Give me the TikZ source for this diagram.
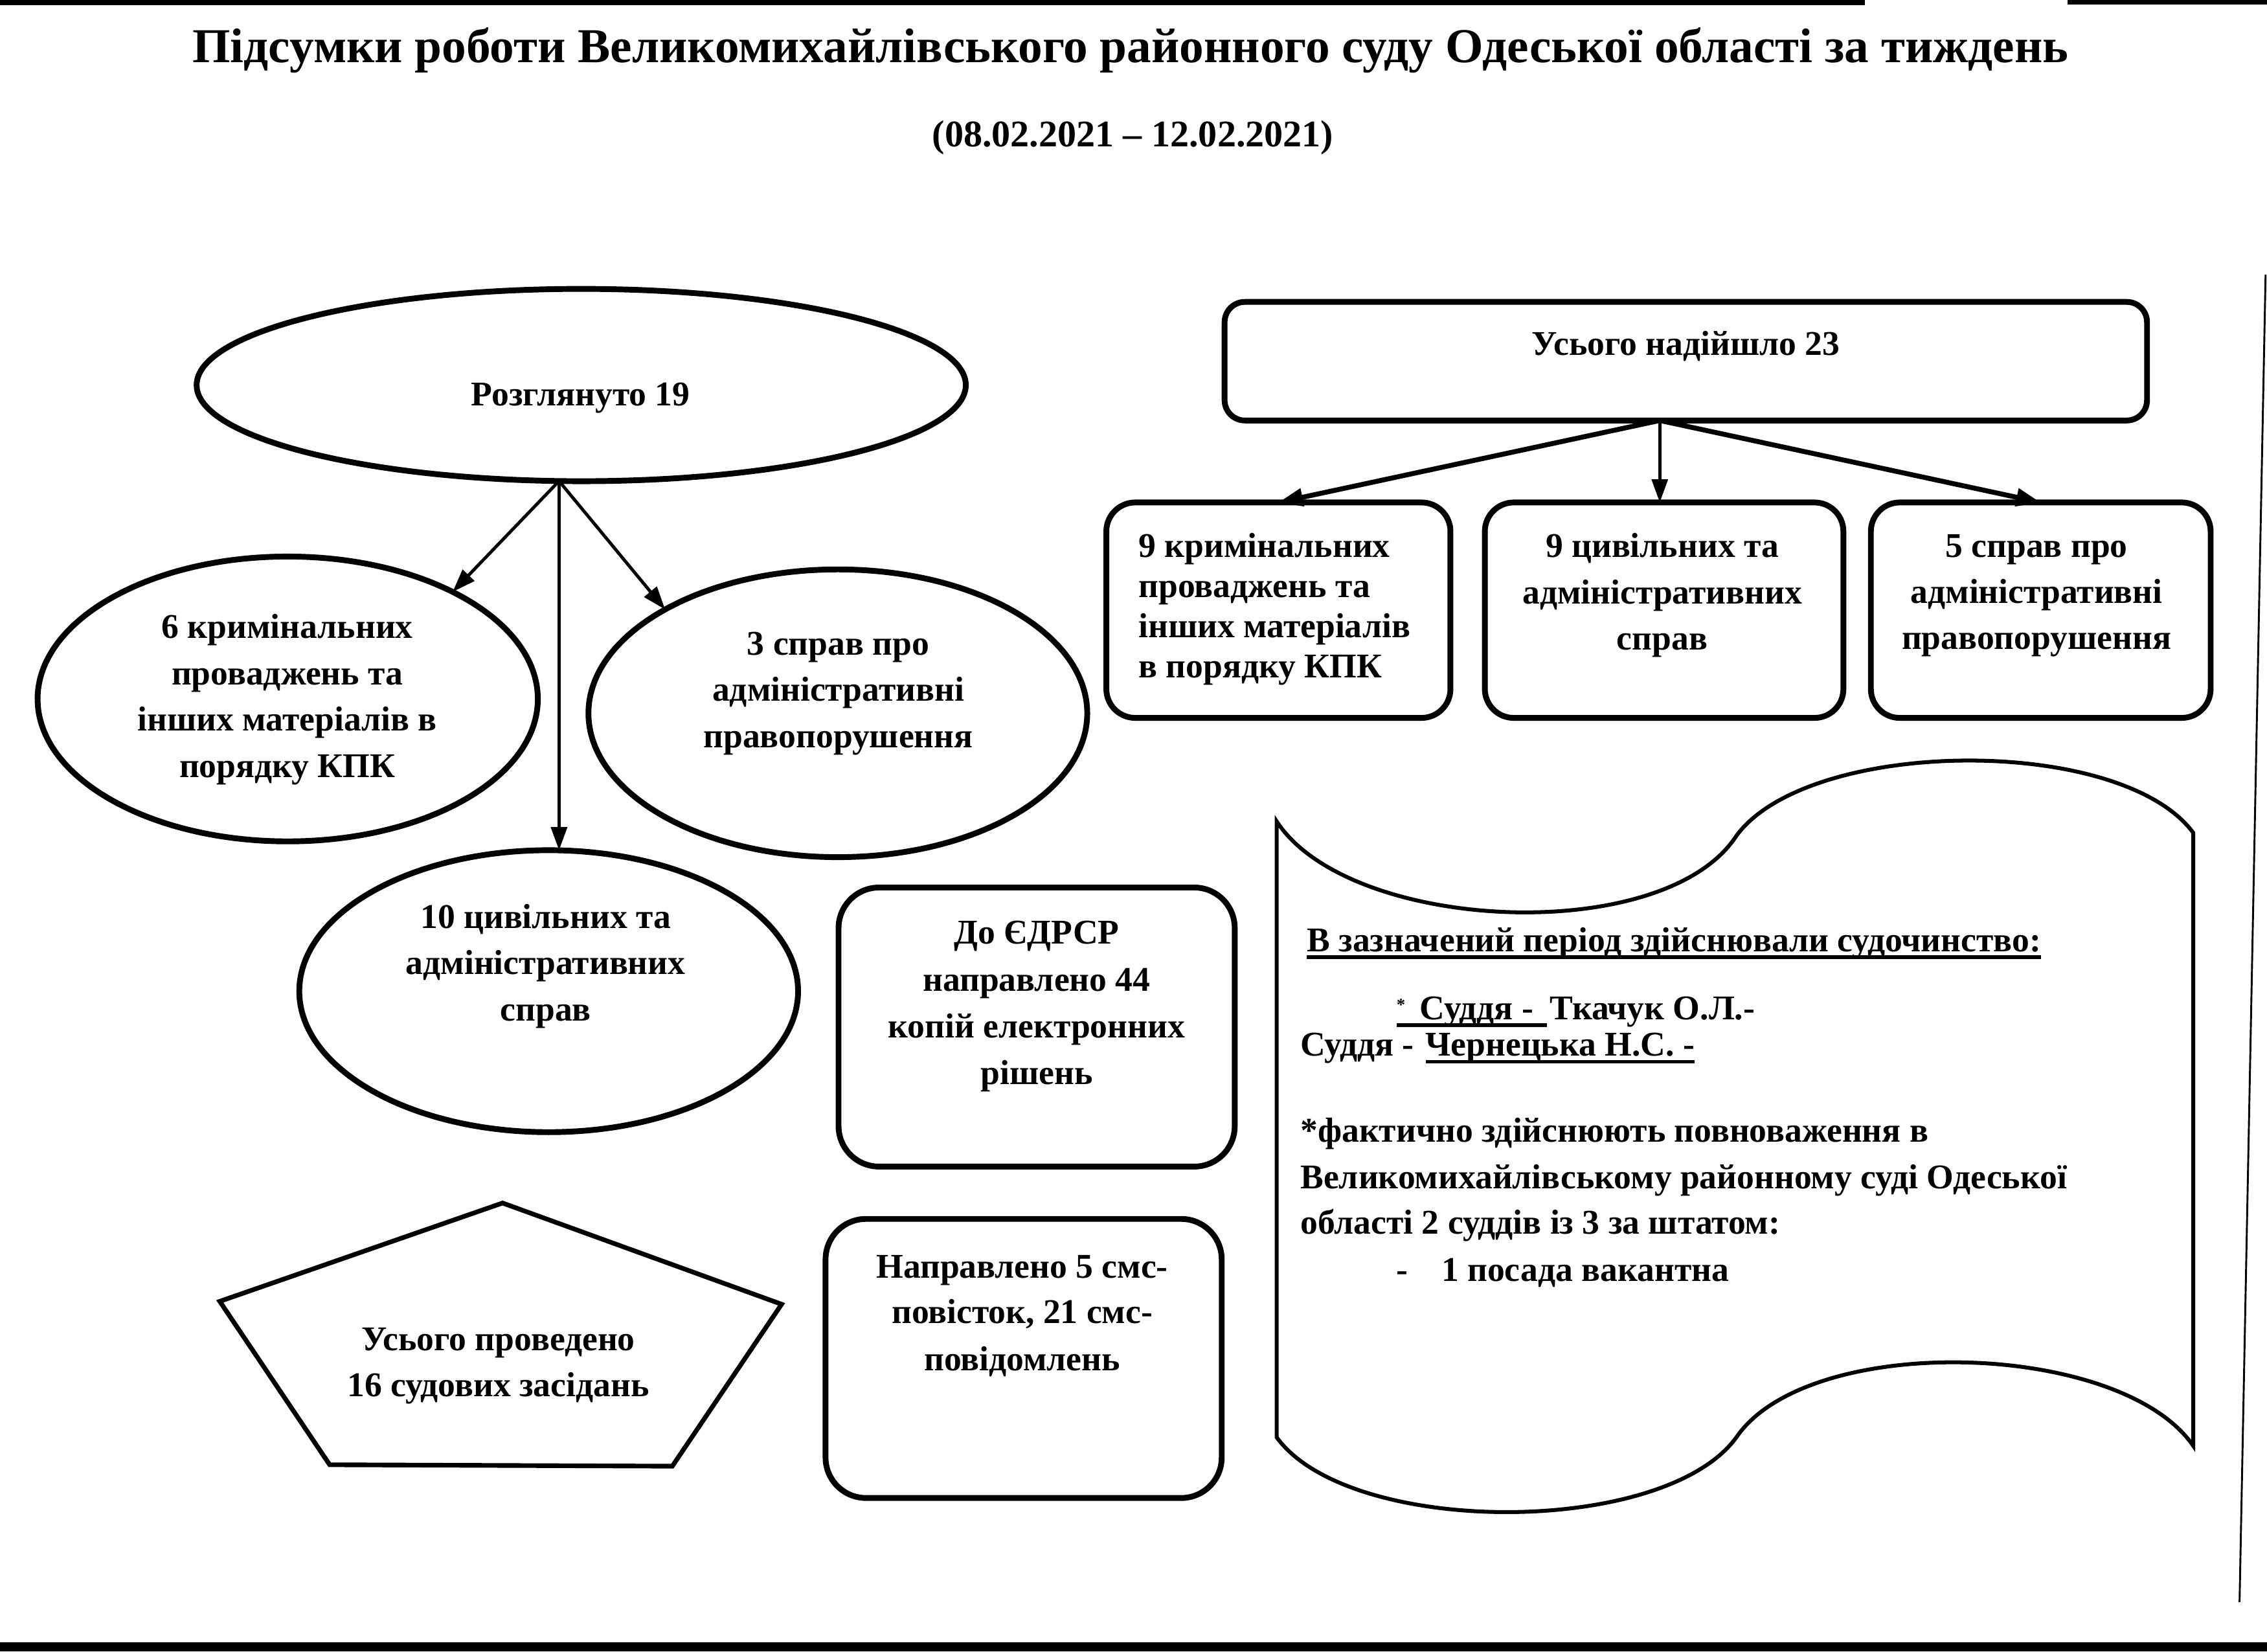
\documentclass[tikz,border=0pt]{standalone}
\usepackage{fontspec}
\setmainfont{Liberation Serif}
\usetikzlibrary{arrows.meta,shapes.geometric}
\begin{document}
\begin{tikzpicture}[x=1pt,y=-1pt,
 every node/.style={inner sep=0pt, outer sep=0pt},
 tx/.style={font=\fontsize{24}{30}\selectfont\bfseries, anchor=base},
 txl/.style={tx, anchor=base west},
 shp/.style={draw=black, line width=4pt},
 ell/.style={shp, ellipse},
 rbox/.style={shp, rectangle, rounded corners=#1},
 arr/.style={line width=2.2pt, -{Triangle[length=16pt,width=11pt]}},
 arrb/.style={line width=3.4pt, -{Triangle[length=17pt,width=12pt]}},
 ul/.style={line width=2.6pt}]
\useasboundingbox (0,0) rectangle (1568,1142.1);

% scan edges
\fill (0,0) rectangle (1290,3.5);
\fill (1430,0) rectangle (1568,3);
\fill (0,1136) rectangle (1568,1142.1);
\draw[line width=1.3pt] (1567,190) -- (1549,1108);

% title
\node[font=\fontsize{33.7}{40}\selectfont\bfseries, anchor=base] (title) at (782,43.3) {Підсумки роботи Великомихайлівського районного суду Одеської області за тиждень};
\node[font=\fontsize{26}{30}\selectfont\bfseries, anchor=base] (dates) at (783.5,101.5) {(08.02.2021 – 12.02.2021)};

% shapes
\node[ell, minimum width=532pt, minimum height=133pt] (r19) at (402,266.3) {};
\node[ell, minimum width=346pt, minimum height=197pt] (e6) at (199,483.4) {};
\node[ell, minimum width=345pt, minimum height=199pt] (e3) at (579.5,493.3) {};
\node[ell, minimum width=345pt, minimum height=195pt] (e10) at (379.5,685.5) {};
\node[rbox=14pt, minimum width=638pt, minimum height=82pt] (b23) at (1166,249.8) {};
\node[rbox=20pt, minimum width=238pt, minimum height=149pt] (k9) at (884.2,422) {};
\node[rbox=20pt, minimum width=248pt, minimum height=149pt] (c9) at (1151,422) {};
\node[rbox=20pt, minimum width=235pt, minimum height=149pt] (a5) at (1411.5,422) {};
\node[rbox=28pt, minimum width=274pt, minimum height=193pt] (edr) at (717,710.3) {};
\node[rbox=28pt, minimum width=274pt, minimum height=193pt] (sms) at (708,939.5) {};

% pentagon
\draw[shp, line width=3.2pt, line join=miter] (347.6,832) -- (540.6,902) -- (465,1014) -- (228,1013) -- (152,900) -- cycle;

% wave scroll
\draw[shp, line width=2.7pt] (883,568) .. controls (933,645) and (1151,655) .. (1201,578)
  .. controls (1251,510) and (1467,508) .. (1517,576) -- (1517,1000)
  .. controls (1467,927) and (1251,921) .. (1201,994)
  .. controls (1151,1063) and (933,1063) .. (883,994) -- cycle;

% arrows left
\draw[arr] (r19.257) -- (e6.33);
\draw[arr] (r19.257) -- (r19.257 |- e10.north);
\draw[arr] (r19.257) -- (e3.149);

% arrows right
\coordinate (s23) at ([xshift=-18pt]b23.south);
\draw[arrb] (s23) -- (k9.north);
\draw[arr, line width=2pt] (s23) -- (s23 |- c9.north);
\draw[arrb] (s23) -- (a5.north);

% texts
\node[tx] (t19) at (401.6,280.7) {Розглянуто 19};

\node[tx] (t6a) at (198.7,441.4) {6 кримінальних};
\node[tx] (t6b) at (198.7,473.4) {проваджень та};
\node[tx] (t6c) at (198.7,505.6) {інших матеріалів в};
\node[tx] (t6d) at (198.7,537.8) {порядку КПК};

\node[tx] (t3a) at (579.8,452.8) {3 справ про};
\node[tx] (t3b) at (579.8,485) {адміністративні};
\node[tx] (t3c) at (579.8,517) {правопорушення};

\node[tx] (t10a) at (377.4,642) {10 цивільних та};
\node[tx] (t10b) at (377.4,674) {адміністративних};
\node[tx] (t10c) at (377.4,706) {справ};

\node[tx] (t23) at (1166,245.7) {Усього надійшло 23};

\node[txl] (k9a) at (787.6,385.5) {9 кримінальних};
\node[txl] (k9b) at (787.6,413.3) {проваджень та};
\node[txl] (k9c) at (787.6,441) {інших матеріалів};
\node[txl] (k9d) at (787.6,468.8) {в порядку КПК};

\node[tx] (c9a) at (1149.7,385.5) {9 цивільних та};
\node[tx] (c9b) at (1149.7,417.5) {адміністративних};
\node[tx] (c9c) at (1149.7,449.3) {справ};

\node[tx] (a5a) at (1408.6,385.5) {5 справ про};
\node[tx] (a5b) at (1408.6,417) {адміністративні};
\node[tx] (a5c) at (1408.6,449) {правопорушення};

\node[tx] (edra) at (717,652.9) {До ЄДРСР};
\node[tx] (edrb) at (717,685.3) {направлено 44};
\node[tx] (edrc) at (717,717.9) {копій електронних};
\node[tx] (edrd) at (717,750) {рішень};

\node[tx] (smsa) at (707,883.8) {Направлено 5 смс-};
\node[tx] (smsb) at (707,915.3) {повісток, 21 смс-};
\node[tx] (smsc) at (707,948) {повідомлень};

\node[tx] (pa) at (344.6,934) {Усього проведено};
\node[tx] (pb) at (344.6,966) {16 судових засідань};

% scroll text
\node[txl] (sc1) at (904,658) {В зазначений період здійснювали судочинство:};
\draw[ul] ([yshift=-4pt]sc1.base west) -- ([yshift=-4pt]sc1.base east);
\node[txl] (sc2a) at (966,705) {\raisebox{6pt}{\fontsize{12}{12}\selectfont*}\kern10pt Суддя -};
\node[txl] (sc2b) at (1072,705) {Ткачук О.Л.-};
\draw[ul] ([yshift=-4pt]sc2a.base west) -- ([yshift=-4pt,xshift=-2pt]sc2b.base west);
\node[txl] (sc3a) at (899.5,730.3) {Суддя -};
\node[txl] (sc3b) at (986,730.3) {Чернецька Н.С. -};
\draw[ul] ([yshift=-4pt]sc3b.base west) -- ([yshift=-4pt]sc3b.base east);
\node[txl] (sc4) at (899.5,790) {*фактично здійснюють повноваження в};
\node[txl] (sc5) at (899.5,822) {Великомихайлівському районному суді Одеської};
\node[txl] (sc6) at (899.5,853.6) {області 2 суддів із 3 за штатом:};
\node[txl] (sc7a) at (966,886) {-};
\node[txl] (sc7b) at (997,886) {1 посада вакантна};
\end{tikzpicture}
\end{document}
